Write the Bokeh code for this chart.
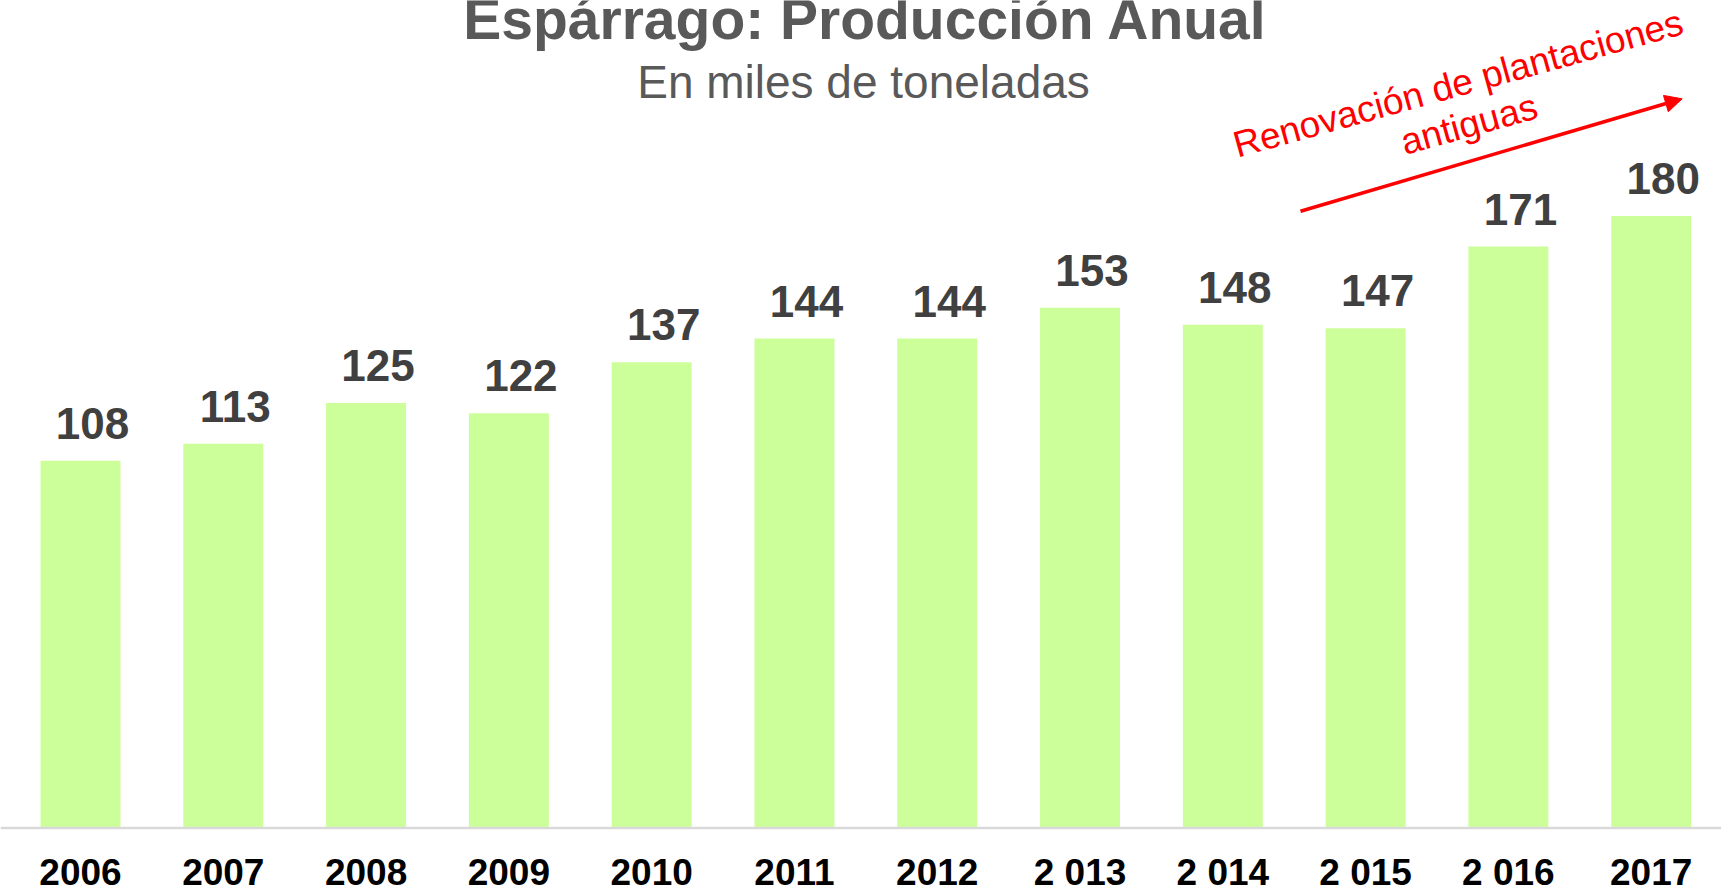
import math
from bokeh.plotting import figure
from bokeh.models import Range1d, Span, Label, Arrow, NormalHead, ColumnDataSource
from bokeh.embed import file_html
from bokeh.resources import INLINE
from bokeh.core.properties import value

# ---- data ----
years = ["2006", "2007", "2008", "2009", "2010", "2011", "2012",
         "2 013", "2 014", "2 015", "2 016", "2017"]
production = [108, 113, 125, 122, 137, 144, 144, 153, 148, 147, 171, 180]
title_text = "Espárrago: Producción Anual"
subtitle_text = "En miles de toneladas"
note_lines = ["Renovación de plantaciones", "antiguas"]

# ---- geometry (page pixels -> data units) ----
W, H = 1721, 892
SX = 142.79            # px per category
X0 = -0.5042 - 8 / SX  # data x at left frame edge (page x = 0)
SY = 3.40              # px per thousand tonnes
BASE_PAGE_Y = 827.5    # page y of the zero line
MID = 0.3465           # baseline -> "middle" anchor, in em


def dx(px):
    return X0 + px / SX


def dy(py):
    return (BASE_PAGE_Y - py) / SY


FONT = "Liberation Sans"

p = figure(width=W, height=H, output_backend="svg", toolbar_location=None,
           x_range=Range1d(dx(0), dx(W)),
           y_range=Range1d(dy(H), dy(0)),
           min_border=0, outline_line_color=None)
p.title.visible = False
p.axis.visible = False
p.grid.visible = False
p.background_fill_color = "white"
p.border_fill_color = "white"

idx = list(range(len(years)))
src = ColumnDataSource(dict(x=idx, top=production, year=years,
                            label=[str(v) for v in production]))

p.vbar(x="x", top="top", bottom=0, width=0.56, source=src,
       fill_color="#ccff99", line_color=None)

p.add_layout(Span(location=0, dimension="width", line_color="#d9d9d9",
                  line_width=2.5))

p.text(x="x", y="top", text="label", source=src, x_offset=12,
       y_offset=-22 - MID * 44,
       text_align="center", text_baseline="middle",
       text_font=value(FONT), text_font_style="bold",
       text_font_size="44px", text_color="#404040")

p.text(x="x", y=0, text="year", source=src, y_offset=57 - MID * 37,
       text_align="center", text_baseline="middle",
       text_font=value(FONT), text_font_style="bold",
       text_font_size="37px", text_color="#000000")

p.add_layout(Label(x=dx(865), y=dy(38.3 - MID * 57), text=title_text,
                   text_align="center", text_baseline="middle",
                   text_font=FONT, text_font_style="bold",
                   text_font_size="57px", text_color="#595959"))
p.add_layout(Label(x=dx(863), y=dy(97.7 - MID * 46), text=subtitle_text,
                   text_align="center", text_baseline="middle",
                   text_font=FONT, text_font_size="46px",
                   text_color="#595959"))

ang = math.radians(15.5)
nx, ny = math.sin(ang), math.cos(ang)   # downward normal on the page
sh = MID * 37
for (cx, cy), line in zip([(1461, 95.5), (1472, 136)], note_lines):
    p.add_layout(Label(x=dx(cx - sh * nx), y=dy(cy - sh * ny), text=line,
                       angle=ang, text_align="center", text_baseline="middle",
                       text_font=FONT, text_font_size="37px",
                       text_color="#ff0000"))

p.add_layout(Arrow(end=NormalHead(size=17, fill_color="#ff0000",
                                  line_color="#ff0000", line_width=1),
                   x_start=dx(1300), y_start=dy(210.7),
                   x_end=dx(1681.7), y_end=dy(98.3),
                   line_color="#ff0000", line_width=3.5))

with open("out.html", "w", encoding="utf-8") as f:
    f.write(file_html(p, INLINE))
